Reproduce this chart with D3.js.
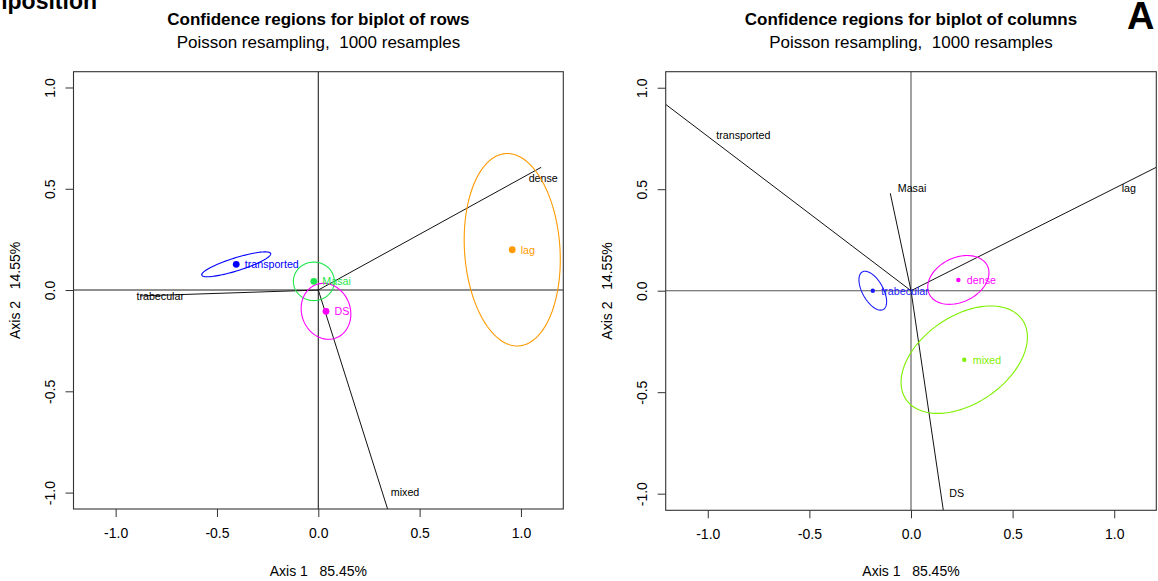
<!DOCTYPE html>
<html>
<head>
<meta charset="utf-8">
<script src="https://cdn.jsdelivr.net/npm/d3@7/dist/d3.min.js"></script>
<style>
  html, body { margin: 0; padding: 0; background: #fff; }
  svg { display: block; font-family: "Liberation Sans", Arial, Helvetica, sans-serif; }
  text { white-space: pre; }
</style>
</head>
<body>
<svg id="chart" width="1158" height="581"></svg>
<script>
// ---- shared axis ticks ----
const tickValues = [-1, -0.5, 0, 0.5, 1];
const xAxisTitle = "Axis 1   85.45%";
const yAxisTitle = "Axis 2   14.55%";
const subtitle = "Poisson resampling,  1000 resamples";

// ---- rows (left panel): points, confidence ellipses, column biplot axes ----
const rowNames = ["transported", "Masai", "DS", "lag"];
const rowX = [-0.405, -0.022, 0.038, 0.957];
const rowY = [0.127, 0.043, -0.105, 0.199];
const rowEllA = [0.178, 0.101, 0.1405, 0.476];
const rowEllB = [0.032, 0.095, 0.120, 0.2355];
const rowEllAngle = [17.4, 0, 110, 93.9];

const colNames = ["trabecular", "dense", "mixed"];
const colAxisX = [-0.88, 1.100, 0.342];
const colAxisY = [-0.029, 0.606, -1.081];
const colLabelX = [-0.78, 1.110, 0.428];
const colLabelY = [-0.027, 0.553, -0.996];

// ---- columns (right panel): points, confidence ellipses, row biplot axes ----
const colX = [-0.188, 0.233, 0.262];
const colY = [0.000, 0.053, -0.340];
const colEllA = [0.106, 0.159, 0.347];
const colEllB = [0.051, 0.109, 0.215];
const colEllAngle = [119, 26, 34.5];

const rowAxisX = [-1.207, -0.102, 0.159, 1.207];
const rowAxisY = [0.918, 0.480, -1.082, 0.608];
const rowLabelX = [-0.825, 0.005, 0.225, 1.072];
const rowLabelY = [0.766, 0.507, -0.995, 0.507];

// colours
const rowColors = ["#0000ff", "#1fe84c", "#ff00ff", "#ff9a00"];
const colColors = ["#1a1aff", "#ff00ff", "#7ff000"];

const svg = d3.select("#chart");

function ellipsePoints(cx, cy, a, b, angleDeg) {
  const t = angleDeg * Math.PI / 180;
  return d3.range(0, 121).map(i => {
    const u = i / 120 * 2 * Math.PI;
    const ex = a * Math.cos(u), ey = b * Math.sin(u);
    return [cx + ex * Math.cos(t) - ey * Math.sin(t), cy + ex * Math.sin(t) + ey * Math.cos(t)];
  });
}

function drawPanel(cfg) {
  const g = svg.append("g");
  const x = d3.scaleLinear().domain(cfg.xDomain).range([cfg.left, cfg.right]);
  const y = d3.scaleLinear().domain(cfg.yDomain).range([cfg.bottom, cfg.top]);
  const cx = (cfg.left + cfg.right) / 2, cy = (cfg.top + cfg.bottom) / 2;

  const clipId = "clip-" + cfg.id;
  svg.append("clipPath").attr("id", clipId).append("rect")
    .attr("x", cfg.left).attr("y", cfg.top)
    .attr("width", cfg.right - cfg.left).attr("height", cfg.bottom - cfg.top);

  // titles
  g.append("text").attr("x", cx).attr("y", 24.8).attr("text-anchor", "middle")
    .attr("font-size", 17).attr("font-weight", "bold").attr("fill", "#000").text(cfg.title);
  g.append("text").attr("x", cx).attr("y", 48).attr("text-anchor", "middle")
    .attr("font-size", 17).attr("fill", "#000").text(subtitle);

  // x axis
  const xa = g.append("g").attr("transform", `translate(0,${cfg.bottom})`)
    .call(d3.axisBottom(x).tickValues(tickValues).tickSize(8).tickPadding(11)
      .tickFormat(d => d.toFixed(1)));
  xa.select(".domain").remove();
  xa.selectAll("line").attr("stroke", "#333");
  xa.selectAll("text").attr("font-size", 14).attr("fill", "#000")
    .attr("font-family", "Liberation Sans, Arial, sans-serif");

  // y axis with rotated labels
  const ya = g.append("g").attr("transform", `translate(${cfg.left},0)`)
    .call(d3.axisLeft(y).tickValues(tickValues).tickSize(8).tickFormat(d => d.toFixed(1)));
  ya.select(".domain").remove();
  ya.selectAll("line").attr("stroke", "#333");
  ya.selectAll("text").attr("font-size", 14).attr("fill", "#000")
    .attr("font-family", "Liberation Sans, Arial, sans-serif")
    .attr("x", null).attr("dy", null)
    .attr("text-anchor", "middle").attr("dominant-baseline", "central")
    .attr("transform", "translate(-23.5,0) rotate(-90)");

  // axis titles
  g.append("text").attr("x", cx).attr("y", 576).attr("text-anchor", "middle")
    .attr("font-size", 14).attr("fill", "#000").text(xAxisTitle);
  g.append("text").attr("transform", `translate(${cfg.left - 59},${cy}) rotate(-90)`)
    .attr("text-anchor", "middle").attr("dominant-baseline", "central")
    .attr("font-size", 14).attr("fill", "#000").text(yAxisTitle);

  const plot = g.append("g").attr("clip-path", `url(#${clipId})`);

  // lines through the origin
  plot.append("line").attr("x1", cfg.left).attr("x2", cfg.right)
    .attr("y1", y(0)).attr("y2", y(0)).attr("stroke", cfg.zeroColor).attr("stroke-width", 1.1);
  plot.append("line").attr("y1", cfg.top).attr("y2", cfg.bottom)
    .attr("x1", x(0)).attr("x2", x(0)).attr("stroke", cfg.zeroColor).attr("stroke-width", 1.1);

  // biplot axes of the other set
  const ax = d3.range(cfg.axNames.length);
  plot.selectAll(".bax").data(ax).join("line").attr("class", "bax")
    .attr("x1", x(0)).attr("y1", y(0))
    .attr("x2", i => x(cfg.axX[i])).attr("y2", i => y(cfg.axY[i]))
    .attr("stroke", "#111").attr("stroke-width", 1);
  plot.selectAll(".baxlab").data(ax).join("text").attr("class", "baxlab")
    .attr("x", i => x(cfg.axLabX[i])).attr("y", i => y(cfg.axLabY[i]))
    .attr("text-anchor", "middle").attr("dominant-baseline", "central")
    .attr("font-size", 10.7).attr("fill", "#000").text(i => cfg.axNames[i]);

  // confidence ellipses
  const line = d3.line().x(d => x(d[0])).y(d => y(d[1]));
  const pts = d3.range(cfg.names.length);
  plot.selectAll(".ell").data(pts).join("path").attr("class", "ell")
    .attr("d", i => line(ellipsePoints(cfg.px[i], cfg.py[i], cfg.ea[i], cfg.eb[i], cfg.eang[i])) + "Z")
    .attr("fill", "none").attr("stroke", i => cfg.colors[i]).attr("stroke-width", 1.1);

  // points and labels
  plot.selectAll(".pt").data(pts).join("circle").attr("class", "pt")
    .attr("cx", i => x(cfg.px[i])).attr("cy", i => y(cfg.py[i])).attr("r", cfg.r)
    .attr("fill", i => cfg.colors[i]);
  plot.selectAll(".ptlab").data(pts).join("text").attr("class", "ptlab")
    .attr("x", i => x(cfg.px[i]) + 8.5).attr("y", i => y(cfg.py[i]))
    .attr("dominant-baseline", "central")
    .attr("font-size", 10.7).attr("fill", i => cfg.colors[i]).text(i => cfg.names[i]);

  // frame
  g.append("rect").attr("x", cfg.left).attr("y", cfg.top)
    .attr("width", cfg.right - cfg.left).attr("height", cfg.bottom - cfg.top)
    .attr("fill", "none").attr("stroke", "#333").attr("stroke-width", 1.1);
}

drawPanel({
  id: "rows", title: "Confidence regions for biplot of rows",
  left: 73.5, right: 563.3, top: 71.7, bottom: 509,
  xDomain: [-1.208, 1.209], yDomain: [-1.081, 1.078],
  names: rowNames, px: rowX, py: rowY, ea: rowEllA, eb: rowEllB, eang: rowEllAngle,
  colors: rowColors, r: 3.4, zeroColor: "#222",
  axNames: colNames, axX: colAxisX, axY: colAxisY, axLabX: colLabelX, axLabY: colLabelY
});

drawPanel({
  id: "cols", title: "Confidence regions for biplot of columns",
  left: 665.7, right: 1156.3, top: 71.7, bottom: 510.3,
  xDomain: [-1.207, 1.207], yDomain: [-1.082, 1.079],
  names: colNames, px: colX, py: colY, ea: colEllA, eb: colEllB, eang: colEllAngle,
  colors: colColors, r: 2.2, zeroColor: "#555",
  axNames: rowNames, axX: rowAxisX, axY: rowAxisY, axLabX: rowLabelX, axLabY: rowLabelY
});

// figure headings (the left heading runs off the top-left corner)
svg.append("text").attr("x", 97).attr("y", 8.5).attr("text-anchor", "end")
  .attr("font-size", 23).attr("font-weight", "bold").attr("fill", "#000").text("Composition");
svg.append("text").attr("x", 1127).attr("y", 28.5)
  .attr("font-size", 38).attr("font-weight", "bold").attr("fill", "#000").text("A");
</script>
</body>
</html>
